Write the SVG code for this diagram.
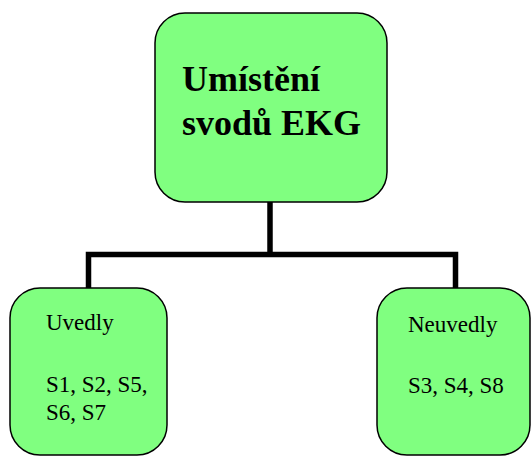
<svg xmlns="http://www.w3.org/2000/svg" width="532" height="456" viewBox="0 0 532 456">
  <style>
    .box { fill: #80ff80; stroke: #000; stroke-width: 1.5; }
    .title { font-family: "Liberation Serif", "Times New Roman", serif; font-weight: bold; font-size: 36px; fill: #000; }
    .label { font-family: "Liberation Serif", "Times New Roman", serif; font-size: 23px; fill: #000; }
    .link { fill: none; stroke: #000; stroke-width: 5.5; }
  </style>
  <rect width="532" height="456" fill="#fff"/>
  <g id="connectors">
    <path class="link" d="M270,202 V254.5"/>
    <path class="link" d="M88.5,288 V254.5 H455.5 V288"/>
  </g>
  <g id="root">
    <rect class="box" x="155" y="13" width="232" height="189" rx="30" ry="30"/>
    <text class="title" x="182" y="91">Umístění</text>
    <text class="title" x="182" y="135">svodů EKG</text>
  </g>
  <g id="uvedly">
    <rect class="box" x="10" y="288" width="157" height="167" rx="30" ry="30"/>
    <text class="label" x="46" y="330">Uvedly</text>
    <text class="label" x="46" y="392">S1, S2, S5,</text>
    <text class="label" x="46" y="420">S6, S7</text>
  </g>
  <g id="neuvedly">
    <rect class="box" x="377" y="288" width="153" height="167" rx="30" ry="30"/>
    <text class="label" x="408" y="332">Neuvedly</text>
    <text class="label" x="408" y="393">S3, S4, S8</text>
  </g>
</svg>
